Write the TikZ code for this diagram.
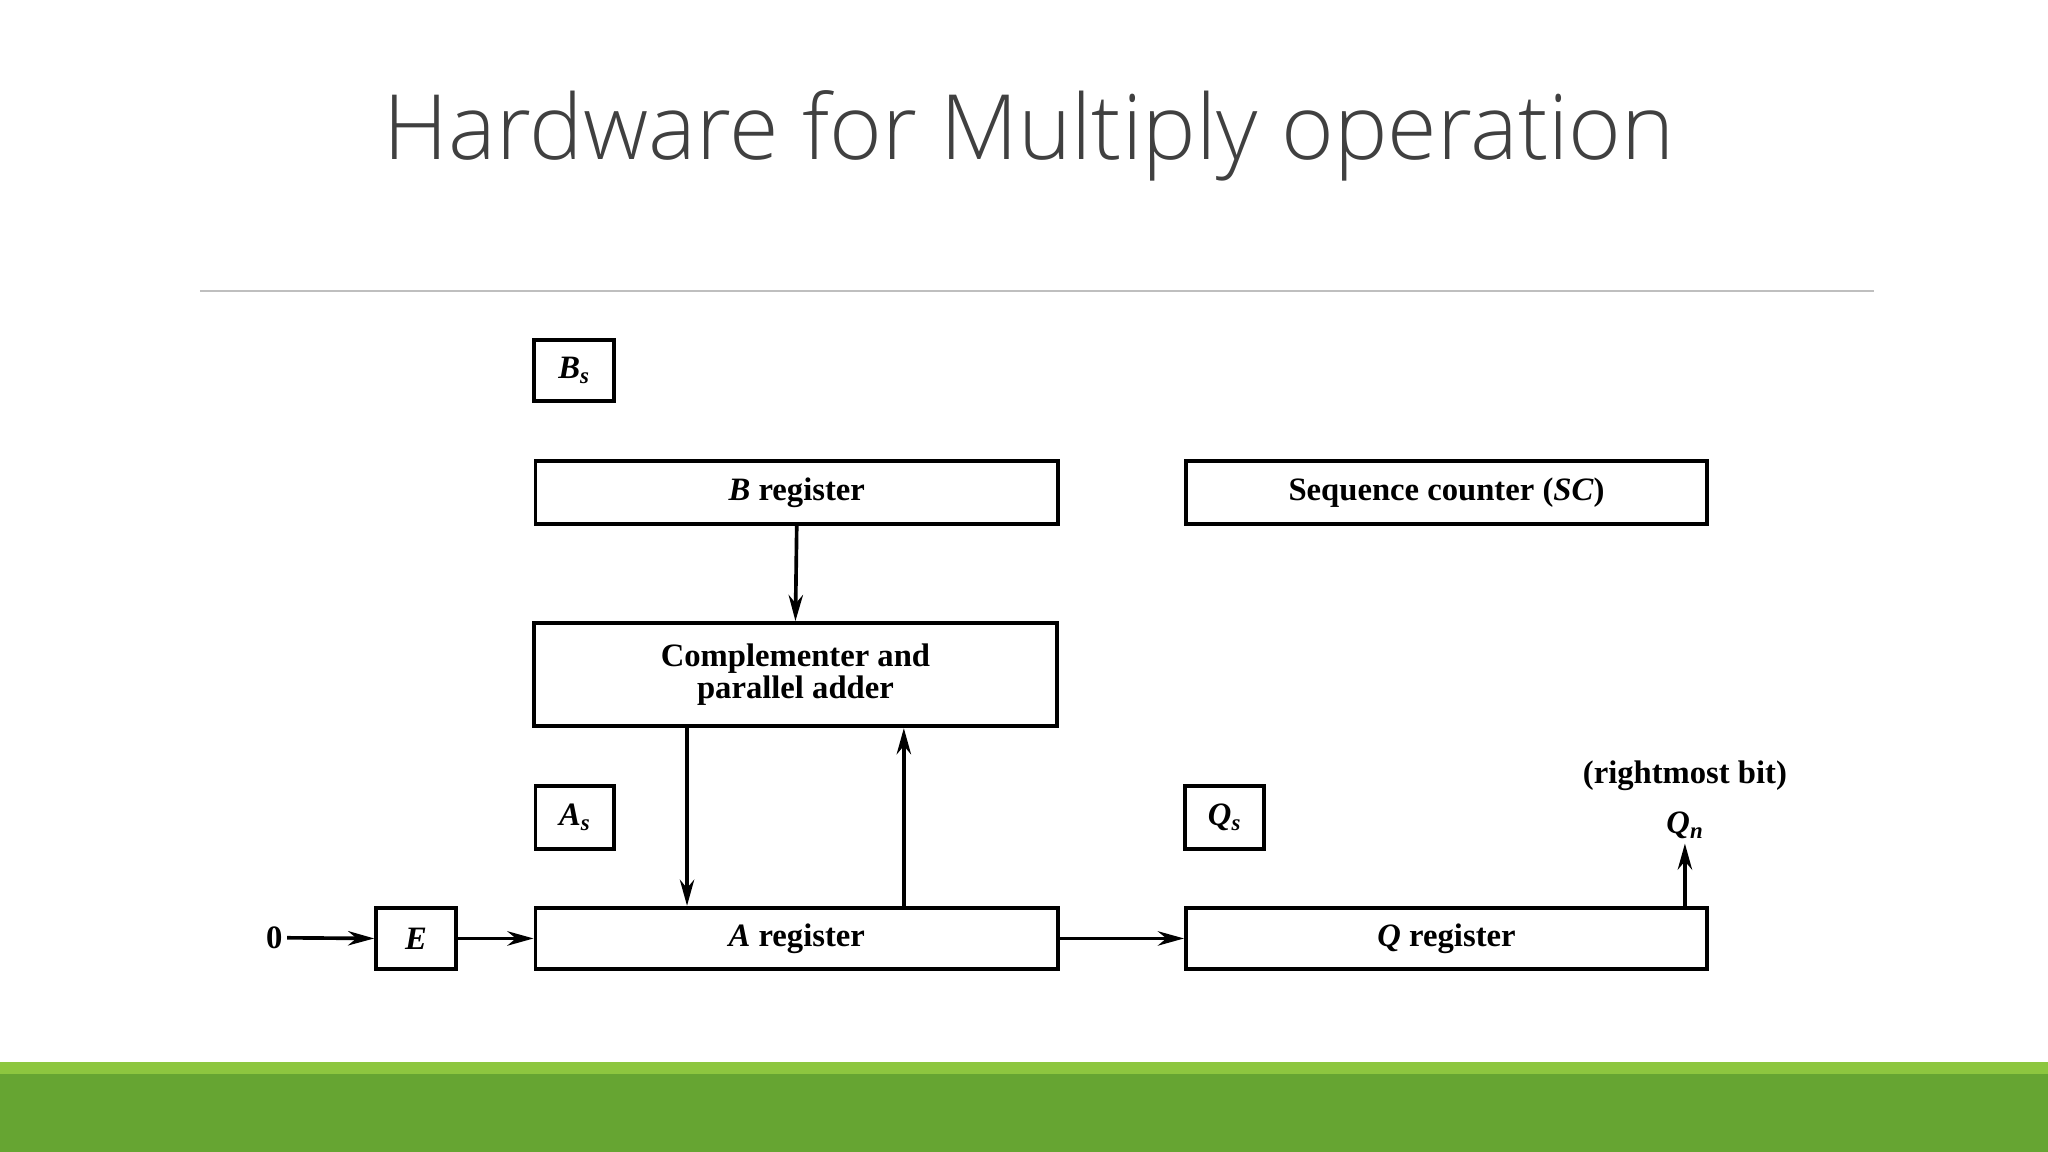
\documentclass[tikz,border=0pt]{standalone}
\usepackage{fontspec}
\setmainfont{Liberation Serif}
\newfontfamily\titlefont{Open Sans Light}
\usetikzlibrary{arrows.meta}
\definecolor{lg}{HTML}{8DC63F}
\definecolor{dg}{HTML}{66A532}
\newcommand{\subv}[2]{\textit{#1}\textsubscript{\textit{#2}}}
\begin{document}
\begin{tikzpicture}[x=1pt,y=-1pt,
  box/.style={draw,line width=3pt,inner sep=0pt,font=\bfseries\fontsize{25}{26}\selectfont,align=center},
  arr/.style={line width=2.8pt,-{Stealth[length=20pt,width=11pt]}},
  lbl/.style={font=\bfseries\fontsize{25}{26}\selectfont}]
\useasboundingbox (0,0) rectangle (1568,882);
\fill[dg] (0,822) rectangle (1568,882);
\fill[lg] (0,813) rectangle (1568,822);
\draw[gray!50,line width=1.2pt] (153,223) -- (1435,223);
\node[font=\titlefont\fontsize{69}{72}\selectfont,text=black!75] (title) at (788,104) {Hardware for Multiply operation};
\node[box,minimum width=61pt,minimum height=47pt] (bs) at (439.5,283.5) {\subv{B}{s}};
\node[box,minimum width=400pt,minimum height=48pt] (breg) at (610,377) {\textit{B} register};
\node[box,minimum width=399pt,minimum height=48pt] (sc) at (1107.5,377) {Sequence counter (\textit{SC})};
\node[box,minimum width=400pt,minimum height=79pt] (comp) at (609,516.5) {Complementer and\\[-2pt]parallel adder};
\node[box,minimum width=60pt,minimum height=48pt] (as) at (440,626) {\subv{A}{s}};
\node[box,minimum width=61pt,minimum height=48pt] (qs) at (937.5,626) {\subv{Q}{s}};
\node[box,minimum width=400pt,minimum height=47pt] (areg) at (610,718.5) {\textit{A} register};
\node[box,minimum width=399pt,minimum height=47pt] (qreg) at (1107.5,718.5) {\textit{Q} register};
\node[box,minimum width=61pt,minimum height=47pt] (e) at (318.5,718.5) {\textit{E}};
\node[lbl] (zero) at (210,718) {0};
\node[lbl] (qn) at (1290,632) {\subv{Q}{n}};
\node[lbl] (rb) at (1290,594) {(rightmost bit)};
\draw[arr] (breg.south) -- (comp.north);
\draw[arr] (comp.south -| 526,0) -- (areg.north -| 526,0);
\draw[arr] (areg.north -| 692,0) -- (comp.south -| 692,0);
\draw[arr] (zero.east) -- (e.west);
\draw[arr] (e.east) -- (areg.west);
\draw[arr] (areg.east) -- (qreg.west);
\draw[arr] (qreg.north -| qn) -- (qn.south);
\end{tikzpicture}
\end{document}
